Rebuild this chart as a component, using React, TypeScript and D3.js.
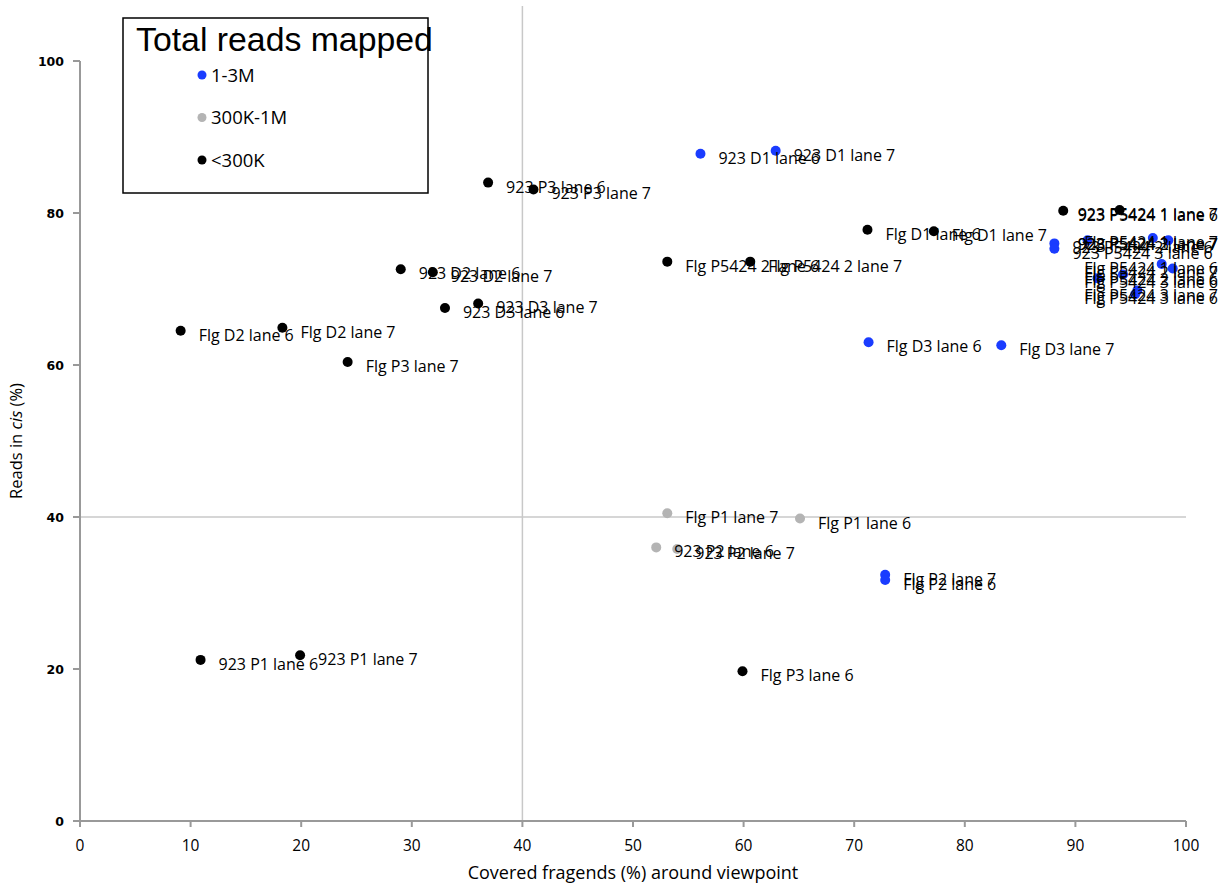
import React, { useEffect, useRef } from "react";
import * as d3 from "d3";

const groups = ["1-3M", "300K-1M", "<300K"];
const groupColors = ["#1a3cff", "#b4b4b4", "#000000"];

const labels = [
  "923 D1 lane 6", "923 D1 lane 7", "Flg D3 lane 6", "Flg D3 lane 7",
  "Flg P2 lane 7", "Flg P2 lane 6",
  "923 P5424 2 lane 6", "923 P5424 3 lane 6", "923 P5424 2 lane 7", "Flg P5424 1 lane 7", "923 P5424 3 lane 7",
  "Flg P5424 1 lane 6", "Flg P5424 2 lane 7", "Flg P5424 2 lane 6", "Flg P5424 3 lane 6", "Flg P5424 3 lane 7", "Flg P5424 3 lane 6",
  "Flg P1 lane 7", "Flg P1 lane 6", "923 P2 lane 6", "923 P2 lane 7",
  "923 P3 lane 6", "923 P3 lane 7", "923 D2 lane 6", "923 D2 lane 7", "923 D3 lane 6", "923 D3 lane 7",
  "Flg D2 lane 6", "Flg D2 lane 7", "Flg P3 lane 7", "Flg P5424 2 lane 6", "Flg P5424 2 lane 7",
  "Flg D1 lane 6", "Flg D1 lane 7", "923 P5424 1 lane 6", "923 P5424 1 lane 7",
  "923 P1 lane 6", "923 P1 lane 7", "Flg P3 lane 6",
];
const xValues = [
  56.1, 62.9, 71.3, 83.3,
  72.8, 72.8,
  88.1, 88.1, 91.1, 97.0, 98.4,
  97.8, 98.8, 94.3, 92.0, 95.6, 95.4,
  53.1, 65.1, 52.1, 54.0,
  36.9, 41.0, 29.0, 31.9, 33.0, 36.0,
  9.1, 18.3, 24.2, 53.1, 60.6,
  71.2, 77.2, 88.9, 94.0,
  10.9, 19.9, 59.9,
];
const yValues = [
  87.8, 88.2, 63.0, 62.6,
  32.4, 31.7,
  76.0, 75.3, 76.4, 76.7, 76.4,
  73.3, 72.7, 71.9, 71.4, 69.8, 69.3,
  40.5, 39.8, 36.0, 35.8,
  84.0, 83.1, 72.6, 72.2, 67.5, 68.1,
  64.5, 64.9, 60.4, 73.6, 73.6,
  77.8, 77.6, 80.3, 80.4,
  21.2, 21.8, 19.7,
];
const groupIndex = [
  0, 0, 0, 0,
  0, 0,
  0, 0, 0, 0, 0,
  0, 0, 0, 0, 0, 0,
  1, 1, 1, 1,
  2, 2, 2, 2, 2, 2,
  2, 2, 2, 2, 2,
  2, 2, 2, 2,
  2, 2, 2,
];
const xTicks = [0, 10, 20, 30, 40, 50, 60, 70, 80, 90, 100];
const yTicks = [0, 20, 40, 60, 80, 100];

export default function App() {
  const ref = useRef<SVGSVGElement>(null);
  useEffect(() => {
    const svg = d3.select(ref.current);
    svg.selectAll("*").remove();
    const x = d3.scaleLinear().domain([0, 100]).range([80, 1186]);
    const y = d3.scaleLinear().domain([0, 100]).range([821, 61]);
    const labelFont = "'Open Sans', sans-serif";

    // crosshair lines at 40
    svg.append("line").attr("x1", x(40)).attr("x2", x(40)).attr("y1", 6).attr("y2", y(0))
      .attr("stroke", "#c8c8c8").attr("stroke-width", 1.5);
    svg.append("line").attr("x1", x(0)).attr("x2", x(100)).attr("y1", y(40)).attr("y2", y(40))
      .attr("stroke", "#c8c8c8").attr("stroke-width", 1.5);

    // axes
    const axisColor = "#999999";
    svg.append("line").attr("x1", x(0)).attr("x2", x(0)).attr("y1", y(100)).attr("y2", y(0))
      .attr("stroke", axisColor).attr("stroke-width", 2);
    svg.append("line").attr("x1", x(0)).attr("x2", x(100)).attr("y1", y(0)).attr("y2", y(0))
      .attr("stroke", axisColor).attr("stroke-width", 2);
    yTicks.forEach((t) => {
      svg.append("line").attr("x1", x(0) - 7).attr("x2", x(0)).attr("y1", y(t)).attr("y2", y(t))
        .attr("stroke", axisColor).attr("stroke-width", 2);
      svg.append("text").attr("x", 64).attr("y", y(t) + 5).attr("text-anchor", "end")
        .attr("font-family", "'DejaVu Sans', sans-serif").attr("font-size", 12.5).attr("font-weight", "bold")
        .attr("fill", "#000").text(String(t));
    });
    xTicks.forEach((t) => {
      svg.append("line").attr("x1", x(t)).attr("x2", x(t)).attr("y1", y(0)).attr("y2", y(0) + 6)
        .attr("stroke", axisColor).attr("stroke-width", 2);
      svg.append("text").attr("x", x(t)).attr("y", 851).attr("text-anchor", "middle")
        .attr("font-family", labelFont).attr("font-size", 15.5).attr("fill", "#000")
        .text(String(t));
    });

    // axis titles
    svg.append("text").attr("x", 633).attr("y", 879).attr("text-anchor", "middle")
      .attr("font-family", labelFont).attr("font-size", 18).attr("fill", "#000")
      .text("Covered fragends (%) around viewpoint");
    const yt = svg.append("text").attr("transform", "translate(22,441) rotate(-90)")
      .attr("text-anchor", "middle").attr("font-family", labelFont).attr("font-size", 16.5).attr("fill", "#000");
    yt.append("tspan").text("Reads in ");
    yt.append("tspan").attr("font-style", "italic").text("cis");
    yt.append("tspan").text(" (%)");

    // points
    const data = labels.map((l, i) => ({ label: l, x: xValues[i], y: yValues[i], g: groupIndex[i] }));
    svg.append("g").selectAll("circle").data(data).enter().append("circle")
      .attr("cx", (d) => x(d.x)).attr("cy", (d) => y(d.y)).attr("r", 5)
      .attr("fill", (d) => groupColors[d.g]);

    // labels (clamped to right edge)
    const rightEdge = 1218;
    const lg = svg.append("g");
    data.forEach((d) => {
      const t = lg.append("text").attr("x", x(d.x) + 18).attr("y", y(d.y) + 10)
        .attr("font-family", labelFont).attr("font-size", 16).attr("fill", "#000").text(d.label);
      const node = t.node() as SVGTextElement;
      const w = node.getComputedTextLength();
      if (x(d.x) + 18 + w > rightEdge) t.attr("x", rightEdge - w);
    });

    // legend
    const leg = svg.append("g");
    leg.append("rect").attr("x", 123).attr("y", 18).attr("width", 305).attr("height", 175)
      .attr("fill", "#fff").attr("stroke", "#000").attr("stroke-width", 1.5);
    leg.append("text").attr("x", 136).attr("y", 51).attr("font-family", "'Liberation Sans', Arial, sans-serif")
      .attr("font-size", 33.8).attr("fill", "#000").text("Total reads mapped");
    groups.forEach((g, i) => {
      const cy = 75 + i * 42.5;
      leg.append("circle").attr("cx", 202).attr("cy", cy).attr("r", 4.5).attr("fill", groupColors[i]);
      leg.append("text").attr("x", 211).attr("y", cy + 6.5).attr("font-family", labelFont)
        .attr("font-size", 18.5).attr("fill", "#000").text(g);
    });
  }, []);
  return (
    <svg ref={ref} width={1228} height={886}
      style={{ position: "absolute", left: 0, top: 0, background: "#fff" }} />
  );
}
